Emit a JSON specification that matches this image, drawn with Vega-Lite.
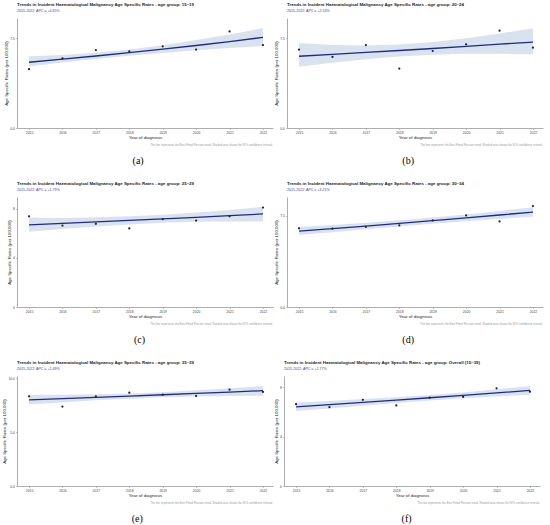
{
  "$schema": "https://vega.github.io/schema/vega-lite/v6.json",
  "description": "Trends in incident haematological malignancy age specific rates, six age groups.",
  "padding": {"left": 1, "top": 2, "right": 1, "bottom": 2},
  "datasets": {
    "asr": [
      {"panel": "a", "year": 2015, "rate": 4.92, "fit": 5.50, "lo": 5.15, "hi": 6.00},
      {"panel": "a", "year": 2016, "rate": 5.82, "fit": 5.76, "lo": 5.48, "hi": 6.10},
      {"panel": "a", "year": 2017, "rate": 6.52, "fit": 6.02, "lo": 5.78, "hi": 6.30},
      {"panel": "a", "year": 2018, "rate": 6.40, "fit": 6.30, "lo": 6.04, "hi": 6.57},
      {"panel": "a", "year": 2019, "rate": 6.83, "fit": 6.59, "lo": 6.28, "hi": 6.92},
      {"panel": "a", "year": 2020, "rate": 6.56, "fit": 6.90, "lo": 6.50, "hi": 7.35},
      {"panel": "a", "year": 2021, "rate": 8.08, "fit": 7.22, "lo": 6.70, "hi": 7.82},
      {"panel": "a", "year": 2022, "rate": 6.94, "fit": 7.58, "lo": 6.85, "hi": 8.35},
      {"panel": "b", "year": 2015, "rate": 6.56, "fit": 6.00, "lo": 5.12, "hi": 7.10},
      {"panel": "b", "year": 2016, "rate": 5.94, "fit": 6.16, "lo": 5.45, "hi": 6.95},
      {"panel": "b", "year": 2017, "rate": 6.94, "fit": 6.32, "lo": 5.75, "hi": 6.90},
      {"panel": "b", "year": 2018, "rate": 4.97, "fit": 6.48, "lo": 5.98, "hi": 6.98},
      {"panel": "b", "year": 2019, "rate": 6.44, "fit": 6.65, "lo": 6.12, "hi": 7.20},
      {"panel": "b", "year": 2020, "rate": 7.00, "fit": 6.83, "lo": 6.20, "hi": 7.50},
      {"panel": "b", "year": 2021, "rate": 8.14, "fit": 7.01, "lo": 6.20, "hi": 7.90},
      {"panel": "b", "year": 2022, "rate": 6.72, "fit": 7.19, "lo": 6.15, "hi": 8.35},
      {"panel": "c", "year": 2015, "rate": 7.38, "fit": 6.68, "lo": 6.12, "hi": 7.28},
      {"panel": "c", "year": 2016, "rate": 6.63, "fit": 6.80, "lo": 6.35, "hi": 7.25},
      {"panel": "c", "year": 2017, "rate": 6.77, "fit": 6.92, "lo": 6.55, "hi": 7.30},
      {"panel": "c", "year": 2018, "rate": 6.39, "fit": 7.05, "lo": 6.72, "hi": 7.38},
      {"panel": "c", "year": 2019, "rate": 7.14, "fit": 7.17, "lo": 6.85, "hi": 7.50},
      {"panel": "c", "year": 2020, "rate": 7.03, "fit": 7.30, "lo": 6.93, "hi": 7.68},
      {"panel": "c", "year": 2021, "rate": 7.38, "fit": 7.43, "lo": 6.96, "hi": 7.90},
      {"panel": "c", "year": 2022, "rate": 8.09, "fit": 7.57, "lo": 6.95, "hi": 8.15},
      {"panel": "d", "year": 2015, "rate": 6.47, "fit": 6.25, "lo": 5.92, "hi": 6.60},
      {"panel": "d", "year": 2016, "rate": 6.44, "fit": 6.45, "lo": 6.15, "hi": 6.75},
      {"panel": "d", "year": 2017, "rate": 6.60, "fit": 6.66, "lo": 6.40, "hi": 6.93},
      {"panel": "d", "year": 2018, "rate": 6.71, "fit": 6.88, "lo": 6.62, "hi": 7.13},
      {"panel": "d", "year": 2019, "rate": 7.12, "fit": 7.10, "lo": 6.85, "hi": 7.36},
      {"panel": "d", "year": 2020, "rate": 7.53, "fit": 7.33, "lo": 7.05, "hi": 7.62},
      {"panel": "d", "year": 2021, "rate": 7.04, "fit": 7.57, "lo": 7.25, "hi": 7.90},
      {"panel": "d", "year": 2022, "rate": 8.30, "fit": 7.81, "lo": 7.42, "hi": 8.20},
      {"panel": "e", "year": 2015, "rate": 8.32, "fit": 7.98, "lo": 7.55, "hi": 8.45},
      {"panel": "e", "year": 2016, "rate": 7.37, "fit": 8.10, "lo": 7.75, "hi": 8.45},
      {"panel": "e", "year": 2017, "rate": 8.32, "fit": 8.22, "lo": 7.95, "hi": 8.50},
      {"panel": "e", "year": 2018, "rate": 8.65, "fit": 8.34, "lo": 8.10, "hi": 8.58},
      {"panel": "e", "year": 2019, "rate": 8.47, "fit": 8.46, "lo": 8.22, "hi": 8.70},
      {"panel": "e", "year": 2020, "rate": 8.35, "fit": 8.58, "lo": 8.30, "hi": 8.88},
      {"panel": "e", "year": 2021, "rate": 8.93, "fit": 8.71, "lo": 8.35, "hi": 9.06},
      {"panel": "e", "year": 2022, "rate": 8.72, "fit": 8.84, "lo": 8.38, "hi": 9.27},
      {"panel": "f", "year": 2015, "rate": 6.62, "fit": 6.41, "lo": 6.07, "hi": 6.75},
      {"panel": "f", "year": 2016, "rate": 6.38, "fit": 6.58, "lo": 6.28, "hi": 6.88},
      {"panel": "f", "year": 2017, "rate": 6.97, "fit": 6.76, "lo": 6.50, "hi": 7.03},
      {"panel": "f", "year": 2018, "rate": 6.52, "fit": 6.95, "lo": 6.72, "hi": 7.18},
      {"panel": "f", "year": 2019, "rate": 7.15, "fit": 7.14, "lo": 6.92, "hi": 7.36},
      {"panel": "f", "year": 2020, "rate": 7.21, "fit": 7.33, "lo": 7.10, "hi": 7.56},
      {"panel": "f", "year": 2021, "rate": 7.90, "fit": 7.53, "lo": 7.25, "hi": 7.82},
      {"panel": "f", "year": 2022, "rate": 7.63, "fit": 7.74, "lo": 7.38, "hi": 8.10}
    ]
  },
  "spacing": 14,
  "vconcat": [
    {
      "spacing": 0,
      "hconcat": [
        {
          "title": {"text": "(a)", "orient": "bottom", "anchor": "middle", "frame": "bounds", "font": "Liberation Serif", "fontSize": 10, "fontWeight": "normal", "color": "#000", "subtitle": "", "offset": 10},
          "vconcat": [{
            "title": {"text": "The line represents the Best Fitted Poisson trend. Shaded area shows the 95% confidence interval.", "orient": "bottom", "anchor": "end", "frame": "bounds", "fontSize": 2.8, "fontWeight": "normal", "color": "#999", "subtitle": "", "offset": 4},
            "vconcat": [{
              "width": 256, "height": 110,
              "title": {"text": "Trends in Incident Haematological Malignancy Age Specific Rates - age group: 15–19", "subtitle": "2015-2022: APC = +4.65%"},
              "data": {"name": "asr"},
              "transform": [{"filter": "datum.panel == 'a'"}],
              "encoding": {
                "x": {"field": "year", "type": "quantitative", "scale": {"domain": [2014.64, 2022.3], "nice": false, "zero": false}, "axis": {"values": [2015, 2016, 2017, 2018, 2019, 2020, 2021, 2022], "format": "d", "title": "Year of diagnosis"}}
              },
              "layer": [
                {"mark": {"type": "area", "color": "#d9e3f0"}, "encoding": {"y": {"field": "lo", "type": "quantitative", "scale": {"domain": [0, 9.2], "nice": false}, "axis": {"values": [0, 2.5, 5, 7.5], "format": ".1f", "title": "Age Specific Rates (per 100,000)"}}, "y2": {"field": "hi"}}},
                {"mark": {"type": "line", "color": "#1f2a86", "strokeWidth": 1.3}, "encoding": {"y": {"field": "fit", "type": "quantitative"}}},
                {"mark": {"type": "point", "filled": true, "color": "#222", "size": 5, "opacity": 1}, "encoding": {"y": {"field": "rate", "type": "quantitative"}}}
              ]
            }]
          }]
        },
        {
          "title": {"text": "(b)", "orient": "bottom", "anchor": "middle", "frame": "bounds", "font": "Liberation Serif", "fontSize": 10, "fontWeight": "normal", "color": "#000", "subtitle": "", "offset": 10},
          "vconcat": [{
            "title": {"text": "The line represents the Best Fitted Poisson trend. Shaded area shows the 95% confidence interval.", "orient": "bottom", "anchor": "end", "frame": "bounds", "fontSize": 2.8, "fontWeight": "normal", "color": "#999", "subtitle": "", "offset": 4},
            "vconcat": [{
              "width": 256, "height": 110,
              "title": {"text": "Trends in Incident Haematological Malignancy Age Specific Rates - age group: 20–24", "subtitle": "2015-2022: APC = +2.53%"},
              "data": {"name": "asr"},
              "transform": [{"filter": "datum.panel == 'b'"}],
              "encoding": {
                "x": {"field": "year", "type": "quantitative", "scale": {"domain": [2014.64, 2022.3], "nice": false, "zero": false}, "axis": {"values": [2015, 2016, 2017, 2018, 2019, 2020, 2021, 2022], "format": "d", "title": "Year of diagnosis"}}
              },
              "layer": [
                {"mark": {"type": "area", "color": "#d9e3f0"}, "encoding": {"y": {"field": "lo", "type": "quantitative", "scale": {"domain": [0, 9.2], "nice": false}, "axis": {"values": [0, 2.5, 5, 7.5], "format": ".1f", "title": "Age Specific Rates (per 100,000)"}}, "y2": {"field": "hi"}}},
                {"mark": {"type": "line", "color": "#1f2a86", "strokeWidth": 1.3}, "encoding": {"y": {"field": "fit", "type": "quantitative"}}},
                {"mark": {"type": "point", "filled": true, "color": "#222", "size": 5, "opacity": 1}, "encoding": {"y": {"field": "rate", "type": "quantitative"}}}
              ]
            }]
          }]
        }
      ]
    },
    {
      "spacing": 0,
      "hconcat": [
        {
          "title": {"text": "(c)", "orient": "bottom", "anchor": "middle", "frame": "bounds", "font": "Liberation Serif", "fontSize": 10, "fontWeight": "normal", "color": "#000", "subtitle": "", "offset": 10},
          "vconcat": [{
            "title": {"text": "The line represents the Best Fitted Poisson trend. Shaded area shows the 95% confidence interval.", "orient": "bottom", "anchor": "end", "frame": "bounds", "fontSize": 2.8, "fontWeight": "normal", "color": "#999", "subtitle": "", "offset": 4},
            "vconcat": [{
              "width": 256, "height": 110,
              "title": {"text": "Trends in Incident Haematological Malignancy Age Specific Rates - age group: 25–29", "subtitle": "2015-2022: APC = +1.79%"},
              "data": {"name": "asr"},
              "transform": [{"filter": "datum.panel == 'c'"}],
              "encoding": {
                "x": {"field": "year", "type": "quantitative", "scale": {"domain": [2014.64, 2022.3], "nice": false, "zero": false}, "axis": {"values": [2015, 2016, 2017, 2018, 2019, 2020, 2021, 2022], "format": "d", "title": "Year of diagnosis"}}
              },
              "layer": [
                {"mark": {"type": "area", "color": "#d9e3f0"}, "encoding": {"y": {"field": "lo", "type": "quantitative", "scale": {"domain": [0, 8.95], "nice": false}, "axis": {"values": [0, 2, 4, 6, 8], "format": "d", "title": "Age Specific Rates (per 100,000)"}}, "y2": {"field": "hi"}}},
                {"mark": {"type": "line", "color": "#1f2a86", "strokeWidth": 1.3}, "encoding": {"y": {"field": "fit", "type": "quantitative"}}},
                {"mark": {"type": "point", "filled": true, "color": "#222", "size": 5, "opacity": 1}, "encoding": {"y": {"field": "rate", "type": "quantitative"}}}
              ]
            }]
          }]
        },
        {
          "title": {"text": "(d)", "orient": "bottom", "anchor": "middle", "frame": "bounds", "font": "Liberation Serif", "fontSize": 10, "fontWeight": "normal", "color": "#000", "subtitle": "", "offset": 10},
          "vconcat": [{
            "title": {"text": "The line represents the Best Fitted Poisson trend. Shaded area shows the 95% confidence interval.", "orient": "bottom", "anchor": "end", "frame": "bounds", "fontSize": 2.8, "fontWeight": "normal", "color": "#999", "subtitle": "", "offset": 4},
            "vconcat": [{
              "width": 256, "height": 110,
              "title": {"text": "Trends in Incident Haematological Malignancy Age Specific Rates - age group: 30–34", "subtitle": "2015-2022: APC = +3.21%"},
              "data": {"name": "asr"},
              "transform": [{"filter": "datum.panel == 'd'"}],
              "encoding": {
                "x": {"field": "year", "type": "quantitative", "scale": {"domain": [2014.64, 2022.3], "nice": false, "zero": false}, "axis": {"values": [2015, 2016, 2017, 2018, 2019, 2020, 2021, 2022], "format": "d", "title": "Year of diagnosis"}}
              },
              "layer": [
                {"mark": {"type": "area", "color": "#d9e3f0"}, "encoding": {"y": {"field": "lo", "type": "quantitative", "scale": {"domain": [0, 9.05], "nice": false}, "axis": {"values": [0, 2.5, 5, 7.5], "format": ".1f", "title": "Age Specific Rates (per 100,000)"}}, "y2": {"field": "hi"}}},
                {"mark": {"type": "line", "color": "#1f2a86", "strokeWidth": 1.3}, "encoding": {"y": {"field": "fit", "type": "quantitative"}}},
                {"mark": {"type": "point", "filled": true, "color": "#222", "size": 5, "opacity": 1}, "encoding": {"y": {"field": "rate", "type": "quantitative"}}}
              ]
            }]
          }]
        }
      ]
    },
    {
      "spacing": 0,
      "hconcat": [
        {
          "title": {"text": "(e)", "orient": "bottom", "anchor": "middle", "frame": "bounds", "font": "Liberation Serif", "fontSize": 10, "fontWeight": "normal", "color": "#000", "subtitle": "", "offset": 10},
          "vconcat": [{
            "title": {"text": "The line represents the Best Fitted Poisson trend. Shaded area shows the 95% confidence interval.", "orient": "bottom", "anchor": "end", "frame": "bounds", "fontSize": 2.8, "fontWeight": "normal", "color": "#999", "subtitle": "", "offset": 4},
            "vconcat": [{
              "width": 256, "height": 110,
              "title": {"text": "Trends in Incident Haematological Malignancy Age Specific Rates - age group: 35–39", "subtitle": "2015-2022: APC = +1.49%"},
              "data": {"name": "asr"},
              "transform": [{"filter": "datum.panel == 'e'"}],
              "encoding": {
                "x": {"field": "year", "type": "quantitative", "scale": {"domain": [2014.64, 2022.3], "nice": false, "zero": false}, "axis": {"values": [2015, 2016, 2017, 2018, 2019, 2020, 2021, 2022], "format": "d", "title": "Year of diagnosis"}}
              },
              "layer": [
                {"mark": {"type": "area", "color": "#d9e3f0"}, "encoding": {"y": {"field": "lo", "type": "quantitative", "scale": {"domain": [0, 10.2], "nice": false}, "axis": {"values": [0, 2.5, 5, 7.5, 10], "format": ".1f", "title": "Age Specific Rates (per 100,000)"}}, "y2": {"field": "hi"}}},
                {"mark": {"type": "line", "color": "#1f2a86", "strokeWidth": 1.3}, "encoding": {"y": {"field": "fit", "type": "quantitative"}}},
                {"mark": {"type": "point", "filled": true, "color": "#222", "size": 5, "opacity": 1}, "encoding": {"y": {"field": "rate", "type": "quantitative"}}}
              ]
            }]
          }]
        },
        {
          "title": {"text": "(f)", "orient": "bottom", "anchor": "middle", "frame": "bounds", "font": "Liberation Serif", "fontSize": 10, "fontWeight": "normal", "color": "#000", "subtitle": "", "offset": 10},
          "vconcat": [{
            "title": {"text": "The line represents the Best Fitted Poisson trend. Shaded area shows the 95% confidence interval.", "orient": "bottom", "anchor": "end", "frame": "bounds", "fontSize": 2.8, "fontWeight": "normal", "color": "#999", "subtitle": "", "offset": 4},
            "vconcat": [{
              "width": 256, "height": 110,
              "title": {"text": "Trends in Incident Haematological Malignancy Age Specific Rates - age group: Overall (15–39)", "subtitle": "2015-2022: APC = +2.77%"},
              "data": {"name": "asr"},
              "transform": [{"filter": "datum.panel == 'f'"}],
              "encoding": {
                "x": {"field": "year", "type": "quantitative", "scale": {"domain": [2014.64, 2022.3], "nice": false, "zero": false}, "axis": {"values": [2015, 2016, 2017, 2018, 2019, 2020, 2021, 2022], "format": "d", "title": "Year of diagnosis"}}
              },
              "layer": [
                {"mark": {"type": "area", "color": "#d9e3f0"}, "encoding": {"y": {"field": "lo", "type": "quantitative", "scale": {"domain": [0, 8.9], "nice": false}, "axis": {"values": [0, 2, 4, 6, 8], "format": "d", "title": "Age Specific Rates (per 100,000)"}}, "y2": {"field": "hi"}}},
                {"mark": {"type": "line", "color": "#1f2a86", "strokeWidth": 1.3}, "encoding": {"y": {"field": "fit", "type": "quantitative"}}},
                {"mark": {"type": "point", "filled": true, "color": "#222", "size": 5, "opacity": 1}, "encoding": {"y": {"field": "rate", "type": "quantitative"}}}
              ]
            }]
          }]
        }
      ]
    }
  ],
  "config": {
    "font": "Liberation Sans",
    "view": {"stroke": null},
    "title": {"fontSize": 4.4, "fontWeight": "bold", "color": "#222", "anchor": "start", "frame": "group", "offset": 4, "subtitleFontSize": 3.6, "subtitleColor": "#3b3bb3", "subtitlePadding": 2},
    "axis": {"grid": false, "domainColor": "#999", "domainWidth": 0.8, "tickColor": "#999", "tickSize": 1.5, "tickWidth": 0.6, "labelFontSize": 3.4, "labelColor": "#444", "labelPadding": 1, "labelOverlap": false, "labelFlush": false, "titleFontSize": 4.4, "titleFontWeight": "normal", "titleColor": "#222"},
    "axisX": {"titlePadding": 2},
    "axisY": {"titlePadding": 1.5}
  }
}
